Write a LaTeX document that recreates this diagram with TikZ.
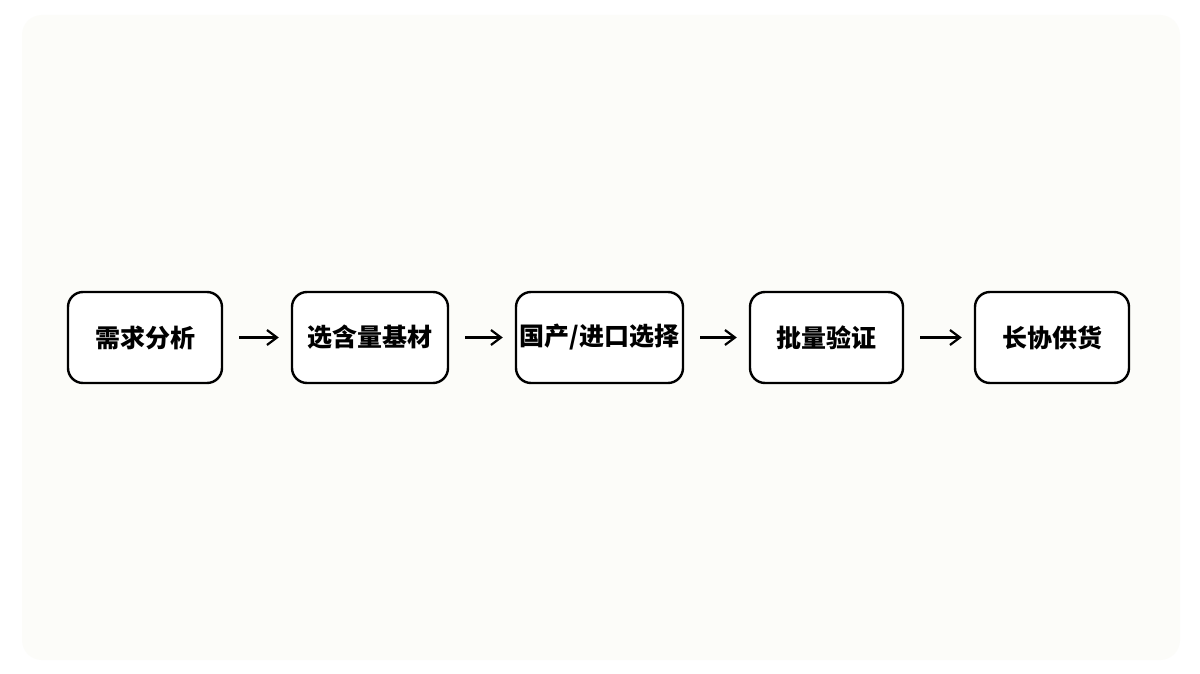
\documentclass[tikz,border=0pt]{standalone}
\usepackage{fontspec}
\setmainfont{Noto Sans CJK SC}
\usetikzlibrary{arrows.meta}
\definecolor{panel}{HTML}{FCFCF9}
\begin{document}
\begin{tikzpicture}[x=1pt,y=-1pt,
  stepbox/.style={draw=black, line width=2.4pt, rounded corners=15pt, fill=white,
    minimum height=91pt, inner sep=0pt, font=\fontsize{25}{28}\selectfont\bfseries},
  flow/.style={-{Straight Barb[length=10pt,width=15pt,line width=2.2pt]}, line width=2.2pt,
    shorten <=16pt, shorten >=12pt}]
\useasboundingbox (0,0) rectangle (1200,674);
\fill[white] (0,0) rectangle (1200,674);
\fill[panel, rounded corners=20pt] (22,15) rectangle (1180,660);
\node[stepbox, minimum width=154pt] (a) at (145,337.5) {需求分析};
\node[stepbox, minimum width=156pt] (b) at (370,337.5) {选含量基材};
\node[stepbox, minimum width=167pt] (c) at (599.5,337.5) {国产/进口选择};
\node[stepbox, minimum width=153pt] (d) at (826.5,337.5) {批量验证};
\node[stepbox, minimum width=154pt] (e) at (1052,337.5) {长协供货};
\draw[flow] (a) -- (b);
\draw[flow] (b) -- (c);
\draw[flow] (c) -- (d);
\draw[flow] (d) -- (e);
\end{tikzpicture}
\end{document}
